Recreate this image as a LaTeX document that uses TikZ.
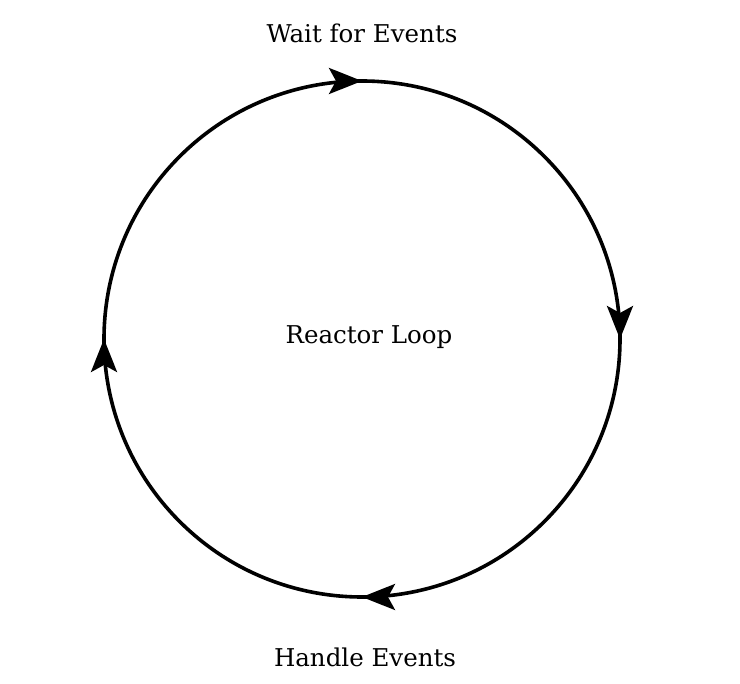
\documentclass[tikz,border=0pt]{standalone}
\usepackage{fontspec}
\setmainfont{DejaVu Serif}
\usetikzlibrary{decorations.markings,arrows.meta}
\begin{document}
\begin{tikzpicture}[x=1pt,y=-1pt,
  loopline/.style={line width=3.6pt,
    postaction={decorate},
    decoration={markings,
      mark=at position 0.125 with {\arrow{Stealth[length=33pt,width=26pt,inset=7pt]}},
      mark=at position 0.375 with {\arrow{Stealth[length=33pt,width=26pt,inset=7pt]}},
      mark=at position 0.625 with {\arrow{Stealth[length=33pt,width=26pt,inset=7pt]}},
      mark=at position 0.875 with {\arrow{Stealth[length=33pt,width=26pt,inset=7pt]}}}},
  label/.style={font=\fontsize{24.5}{28}\selectfont, inner sep=0pt}]
\useasboundingbox (0,0) rectangle (740,684);
\coordinate (c) at (362,339);
\draw[loopline] (c) ++(-45:258) arc[start angle=-45, end angle=315, radius=258];
\node[label] (wait) at (362,33) {Wait for Events};
\node[label] (center) at (369,337) {Reactor Loop};
\node[label] (handle) at (365,657) {Handle Events};
\end{tikzpicture}
\end{document}
